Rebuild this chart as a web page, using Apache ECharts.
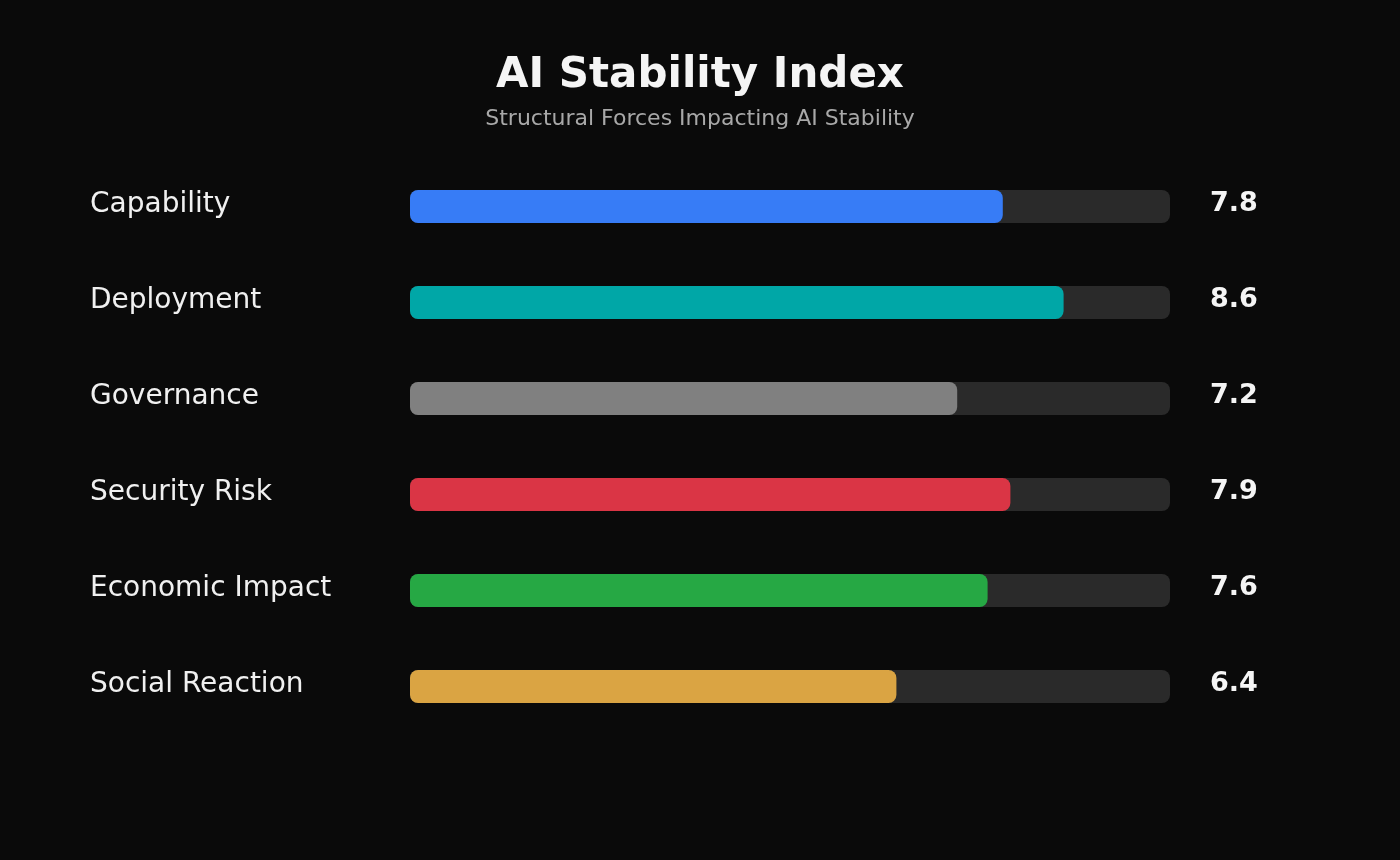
<!DOCTYPE html>
<html>
<head>
<meta charset="utf-8">
<style>
html,body{margin:0;padding:0;background:#0a0a0a;}
#chart{width:1400px;height:860px;}
</style>
<script src="https://cdn.jsdelivr.net/npm/echarts@6/dist/echarts.min.js"></script>
</head>
<body>
<div id="chart"></div>
<script>
const categories = ["Capability", "Deployment", "Governance", "Security Risk", "Economic Impact", "Social Reaction"];
const values = [7.8, 8.6, 7.2, 7.9, 7.6, 6.4];
const barColors = ["#377cf6", "#00a7a7", "#808080", "#da3545", "#26a844", "#daa443"];
const maxValue = 10;

const chart = echarts.init(document.getElementById('chart'));
const font = "DejaVu Sans";
chart.setOption({
  backgroundColor: '#0a0a0a',
  animation: false,
  title: {
    text: 'AI Stability Index',
    subtext: 'Structural Forces Impacting AI Stability',
    left: 'center',
    top: 50,
    itemGap: 11,
    textStyle: {color: '#f5f5f5', fontFamily: font, fontWeight: 'bold', fontSize: 42},
    subtextStyle: {color: '#a8a8a8', fontFamily: font, fontSize: 22}
  },
  grid: {left: 410, right: 230, top: 158.5, bottom: 125.5, containLabel: false},
  xAxis: {type: 'value', min: 0, max: maxValue, show: false},
  yAxis: [{
    type: 'category',
    data: categories,
    inverse: true,
    axisLine: {show: false}, axisTick: {show: false}, splitLine: {show: false},
    axisLabel: {color: '#f0f0f0', fontFamily: font, fontSize: 28, align: 'left', margin: 320, verticalAlign: 'bottom', lineHeight: 3}
  }, {
    type: 'category',
    data: values.map(v => v.toFixed(1)),
    inverse: true,
    position: 'right',
    axisLine: {show: false}, axisTick: {show: false}, splitLine: {show: false},
    axisLabel: {color: '#f5f5f5', fontFamily: font, fontSize: 27, fontWeight: 'bold', align: 'left', margin: 40, verticalAlign: 'bottom', lineHeight: 5}
  }],
  series: [{
    type: 'bar',
    yAxisIndex: 0,
    data: values.map((v, i) => ({value: v, itemStyle: {color: barColors[i]}})),
    barWidth: 33,
    showBackground: true,
    backgroundStyle: {color: '#2a2a2a', borderRadius: 8},
    itemStyle: {borderRadius: 8}
  }]
});
</script>
</body>
</html>
